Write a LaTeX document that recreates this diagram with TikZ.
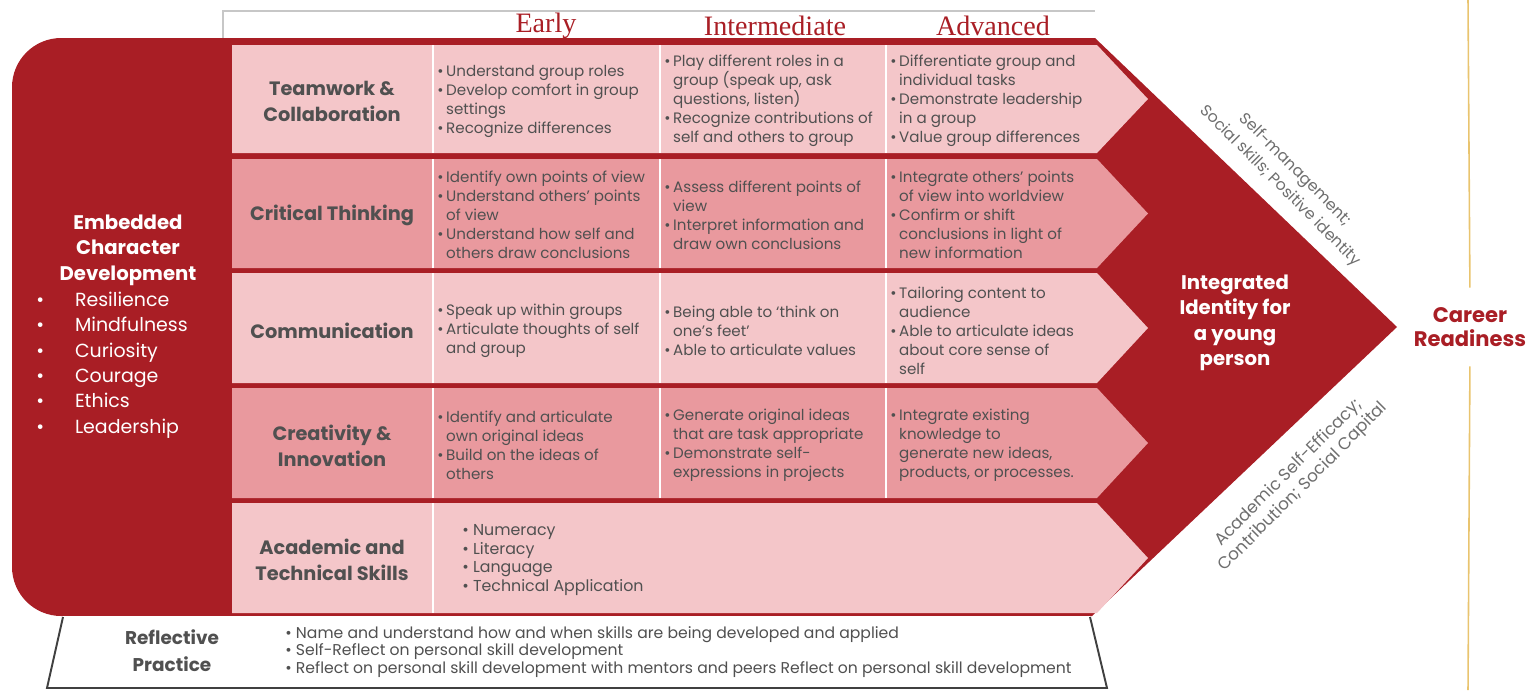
\documentclass[tikz,border=0pt]{standalone}
\usepackage{fontspec}
\setmainfont{Poppins}
\newfontfamily\headfont{Liberation Serif}
\usetikzlibrary{positioning}
\definecolor{cfred}{HTML}{A91E25}
\definecolor{cflight}{HTML}{F4C6C9}
\definecolor{cfdark}{HTML}{E9999E}
\definecolor{cftext}{HTML}{505050}
\definecolor{cfgrey}{HTML}{6E6E6E}
\definecolor{cfgold}{HTML}{E9C46F}
\newcommand{\bl}{\textbullet\hspace{1.5pt}}
\newcommand{\ind}{\hphantom{\textbullet\hspace{1.5pt}}}

\begin{document}
\begin{tikzpicture}[x=0.02cm,y=-0.02cm]
    %
    % `band' is the red frame, `lightrow' and `darkrow' the skill arrows.
    % `skill' is for the row titles, `cell' for the stage texts.
    \tikzstyle{band} = [fill=cfred]
    \tikzstyle{lightrow} = [fill=cflight]
    \tikzstyle{darkrow} = [fill=cfdark]
    \tikzstyle{divider} = [draw=white,line width=1.1pt]
    \tikzstyle{stage} = [font=\headfont\fontsize{16}{19}\selectfont,text=cfred]
    \tikzstyle{skill} = [align=center,font=\bfseries\fontsize{11}{14.8}\selectfont,text=cftext]
    \tikzstyle{cell} = [anchor=west,align=left,inner sep=0pt,font=\fontsize{8.6}{10.8}\selectfont,text=cftext]
    \tikzstyle{whitebold} = [align=center,text=white,font=\bfseries\fontsize{11.2}{14.5}\selectfont]
    \tikzstyle{note} = [align=center,inner sep=0pt,text=cfgrey,font=\fontsize{9}{12}\selectfont]
    \tikzstyle{goldline} = [draw=cfgold,line width=0.9pt]
    %
    \useasboundingbox (0,0) rectangle (1531,690);
    %
    % Stage headings
    \draw[black!22,line width=0.8pt] (223,38) -- (223,11) -- (1095,11);
    \node[stage] (early) at (546,26) {Early};
    \node[stage] (inter) at (775,26) {Intermediate};
    \node[stage] (adv) at (993,26) {Advanced};
    %
    % Red frame
    \fill[band,rounded corners=28pt] (12,38) rectangle (400,616);
    \fill[band] (200,38) -- (1095,38) -- (1397,327) -- (1092,616) -- (200,616) -- cycle;
    %
    % Skill rows
    \foreach \t/\b/\s in {45/153/lightrow,159/268/darkrow,273/383/lightrow,388/498/darkrow,503/613/lightrow}
      \fill[\s] (232,\t) -- (1097,\t) -- (1148,{(\t+\b)/2}) -- (1097,\b) -- (232,\b) -- cycle;
    \foreach \t/\b in {45/153,159/268,273/383,388/498,503/613}
      \draw[divider] (433,\t) -- (433,\b);
    \foreach \t/\b in {45/153,159/268,273/383,388/498} {
      \draw[divider] (660,\t) -- (660,\b);
      \draw[divider] (886,\t) -- (886,\b);
    }
    %
    % Row titles
    \node[skill] (team) at (332,101) {Teamwork \&\\Collaboration};
    \node[skill] (crit) at (332,215) {Critical Thinking};
    \node[skill] (comm) at (332,331) {Communication};
    \node[skill] (crea) at (332,446) {Creativity \&\\Innovation};
    \node[skill] (acad) at (332,560) {Academic and\\Technical Skills};
    %
    % Teamwork
    \node[cell] (teamE) at (437,101) {\bl Understand group roles\\\bl Develop comfort in group\\\ind settings\\\bl Recognize differences};
    \node[cell] (teamI) at (664,101) {\bl Play different roles in a\\\ind group (speak up, ask\\\ind questions, listen)\\\bl Recognize contributions of\\\ind self and others to group};
    \node[cell] (teamA) at (890,101) {\bl Differentiate group and\\\ind individual tasks\\\bl Demonstrate leadership\\\ind in a group\\\bl Value group differences};
    %
    % Critical thinking
    \node[cell] (critE) at (437,215) {\bl Identify own points of view\\\bl Understand others' points\\\ind of view\\\bl Understand how self and\\\ind others draw conclusions};
    \node[cell] (critI) at (664,215) {\bl Assess different points of\\\ind view\\\bl Interpret information and\\\ind draw own conclusions};
    \node[cell] (critA) at (890,215) {\bl Integrate others' points\\\ind of view into worldview\\\bl Confirm or shift\\\ind conclusions in light of\\\ind new information};
    %
    % Communication
    \node[cell] (commE) at (437,331) {\bl Speak up within groups\\\bl Articulate thoughts of self\\\ind and group};
    \node[cell] (commI) at (664,331) {\bl Being able to `think on\\\ind one's feet'\\\bl Able to articulate values};
    \node[cell] (commA) at (890,331) {\bl Tailoring content to\\\ind audience\\\bl Able to articulate ideas\\\ind about core sense of\\\ind self};
    %
    % Creativity
    \node[cell] (creaE) at (437,445) {\bl Identify and articulate\\\ind own original ideas\\\bl Build on the ideas of\\\ind others};
    \node[cell] (creaI) at (664,445) {\bl Generate original ideas\\\ind that are task appropriate\\\bl Demonstrate self-\\\ind expressions in projects};
    \node[cell] (creaA) at (890,445) {\bl Integrate existing\\\ind knowledge to\\\ind generate new ideas,\\\ind products, or processes.};
    %
    % Academic
    \node[cell,font=\fontsize{9}{10.6}\selectfont] (acadL) at (462,560) {\textbullet\ Numeracy\\\textbullet\ Literacy\\\textbullet\ Language\\\textbullet\ Technical Application};
    %
    % Character panel
    \node[whitebold] (embedded) at (128,250) {Embedded\\Character\\Development};
    \node[anchor=west,align=left,inner sep=0pt,text=white,font=\fontsize{10.8}{14.4}\selectfont] (traits) at (36,365)
      {\makebox[22pt][l]{\textbullet}Resilience\\\makebox[22pt][l]{\textbullet}Mindfulness\\\makebox[22pt][l]{\textbullet}Curiosity\\\makebox[22pt][l]{\textbullet}Courage\\\makebox[22pt][l]{\textbullet}Ethics\\\makebox[22pt][l]{\textbullet}Leadership};
    %
    % Identity and career
    \node[whitebold] (identity) at (1235,323) {Integrated\\Identity for\\a young\\person};
    \node[align=center,text=cfred,font=\bfseries\fontsize{12}{13.2}\selectfont] (career) at (1470,327) {Career\\Readiness};
    \coordinate (goldtop) at (1468,0);
    \coordinate (goldbot) at (1468,690);
    \draw[goldline,shorten >=8pt] (goldtop) -- (career.north);
    \draw[goldline,shorten >=8pt] (goldbot) -- (career.south);
    %
    % Edge notes
    \node[note,rotate=-45] (upnoteA) at (1295,170) {Self-management;};
    \node[note,rotate=-45] (upnoteB) at (1280,186) {Social skills; Positive identity};
    \node[note,rotate=45,inner sep=.3333em,font=\fontsize{9.6}{11.6}\selectfont] (lownote) at (1296,480) {Academic Self-Efficacy;\\Contribution; Social Capital};
    %
    % Reflective practice
    \fill[white] (63,616) -- (1090,616) -- (1107,688) -- (47,688) -- cycle;
    \draw[black!75,line width=1.1pt] (63,617) -- (47,688) -- (1107,688) -- (1090,617);
    \node[skill,font=\bfseries\fontsize{10.5}{15.4}\selectfont] (reflect) at (172,651) {Reflective\\Practice};
    \node[cell,font=\fontsize{8.9}{10.2}\selectfont] (reflectL) at (285,652) {\textbullet\ Name and understand how and when skills are being developed and applied\\\textbullet\ Self-Reflect on personal skill development\\\textbullet\ Reflect on personal skill development with mentors and peers Reflect on personal skill development};
    %
\end{tikzpicture}
\end{document}
